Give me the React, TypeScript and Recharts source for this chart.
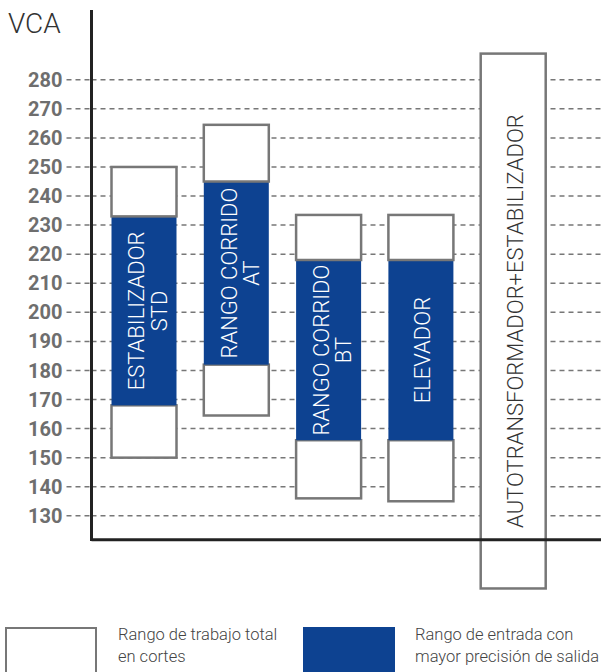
import { BarChart, Bar, XAxis, YAxis, CartesianGrid, ReferenceLine } from "recharts";

const categories = [
  "ESTABILIZADOR STD",
  "RANGO CORRIDO AT",
  "RANGO CORRIDO BT",
  "ELEVADOR",
  "AUTOTRANSFORMADOR+ESTABILIZADOR",
];
const labelLines = [
  ["ESTABILIZADOR", "STD"],
  ["RANGO CORRIDO", "AT"],
  ["RANGO CORRIDO", "BT"],
  ["ELEVADOR"],
  ["AUTOTRANSFORMADOR+ESTABILIZADOR"],
];
// total working range (white) and high-precision input range (blue), in VCA
const totalMin = [150, 164.5, 136, 135, 105];
const precisionMin: (number | null)[] = [168, 182, 156, 156, null];
const precisionMax: (number | null)[] = [233, 245, 218, 218, null];
const totalMax = [250, 264.5, 233.5, 233.5, 289];

const yTicks = [130, 140, 150, 160, 170, 180, 190, 200, 210, 220, 230, 240, 250, 260, 270, 280];
const axisFloor = 121.8;

const BLUE = "#0d4291";
const GREY = "#777777";
const FONT = "Roboto, 'Noto Sans', sans-serif";

const data = categories.map((name, i) => {
  const pMin = precisionMin[i];
  const pMax = precisionMax[i];
  return {
    name,
    base: totalMin[i],
    low: (pMin ?? totalMax[i]) - totalMin[i],
    mid: pMin != null && pMax != null ? pMax - pMin : 0,
    high: pMax != null ? totalMax[i] - pMax : 0,
  };
});

const RotatedLabel = ({ x, y, width, height, index, color }: any) => {
  const lines = labelLines[index];
  const cx = x + width / 2 + (lines.length > 1 ? 4 : 2);
  const cy = y + height / 2;
  return (
    <g>
      {lines.map((t, k) => {
        const lx = cx + (k - (lines.length - 1) / 2) * 22.5;
        return (
          <text
            key={k}
            x={lx}
            y={cy}
            transform={`rotate(-90 ${lx} ${cy})`}
            textAnchor="middle"
            dominantBaseline="central"
            fill={color}
            fontSize={22}
            fontWeight={300}
            fontFamily={FONT}
          >
            {t}
          </text>
        );
      })}
    </g>
  );
};

const whiteShape = (withLabel: boolean) => (props: any) => {
  const { x, y, width, height, index } = props;
  if (!height) return <g />;
  return (
    <g>
      <rect x={x} y={y} width={width} height={height} fill="#fff" stroke={GREY} strokeWidth={2.5} />
      {withLabel && precisionMin[index] == null && (
        <RotatedLabel x={x} y={y} width={width} height={height} index={index} color="#333" />
      )}
    </g>
  );
};

const blueShape = (props: any) => {
  const { x, y, width, height, index } = props;
  if (!height) return <g />;
  return (
    <g>
      <rect x={x} y={y} width={width} height={height} fill={BLUE} />
      <RotatedLabel x={x} y={y} width={width} height={height} index={index} color="#fff" />
    </g>
  );
};

const legendText = {
  position: "absolute" as const,
  top: 624,
  fontFamily: FONT,
  fontSize: 16.5,
  fontWeight: 300,
  lineHeight: "22px",
  color: "#444",
  whiteSpace: "nowrap" as const,
};

export default function App() {
  return (
    <div style={{ position: "absolute", left: 0, top: 0, width: 601, height: 672, background: "#fff", overflow: "hidden" }}>
      <BarChart
        width={601}
        height={603}
        data={data}
        barSize={65}
        margin={{ top: 10, right: 0, bottom: 0, left: 0 }}
      >
        <CartesianGrid
          vertical={false}
          horizontalValues={yTicks}
          stroke={GREY}
          strokeDasharray="5 4"
          strokeWidth={1.5}
        />
        <XAxis dataKey="name" hide padding={{ left: 6, right: 42 }} />
        <YAxis
          type="number"
          domain={[100, 304]}
          allowDataOverflow
          ticks={yTicks}
          interval={0}
          width={91.5}
          tickSize={25}
          tickMargin={4}
          axisLine={{ stroke: "#222", strokeWidth: 3, strokeDasharray: "531 1000" }}
          tickLine={{ stroke: GREY, strokeWidth: 1.5, strokeDasharray: "5 4" }}
          tick={{ fill: "#6e6e6e", fontSize: 20, fontWeight: 700, fontFamily: FONT }}
        />
        <ReferenceLine y={axisFloor} stroke="#222" strokeWidth={3} />
        <Bar dataKey="base" stackId="r" fill="transparent" isAnimationActive={false} />
        <Bar dataKey="low" stackId="r" shape={whiteShape(true)} isAnimationActive={false} />
        <Bar dataKey="mid" stackId="r" shape={blueShape} isAnimationActive={false} />
        <Bar dataKey="high" stackId="r" shape={whiteShape(false)} isAnimationActive={false} />
      </BarChart>
      <div
        style={{
          position: "absolute",
          left: 8,
          top: 7,
          fontFamily: FONT,
          fontSize: 28,
          fontWeight: 300,
          color: "#333",
        }}
      >
        VCA
      </div>
      <div style={{ position: "absolute", left: 5, top: 627, width: 88, height: 60, border: `2.5px solid ${GREY}`, background: "#fff" }} />
      <div style={{ ...legendText, left: 118 }}>
        Rango de trabajo total
        <br />
        en cortes
      </div>
      <div style={{ position: "absolute", left: 303, top: 627, width: 92, height: 60, background: BLUE }} />
      <div style={{ ...legendText, left: 415 }}>
        Rango de entrada con
        <br />
        mayor precisión de salida
      </div>
    </div>
  );
}
